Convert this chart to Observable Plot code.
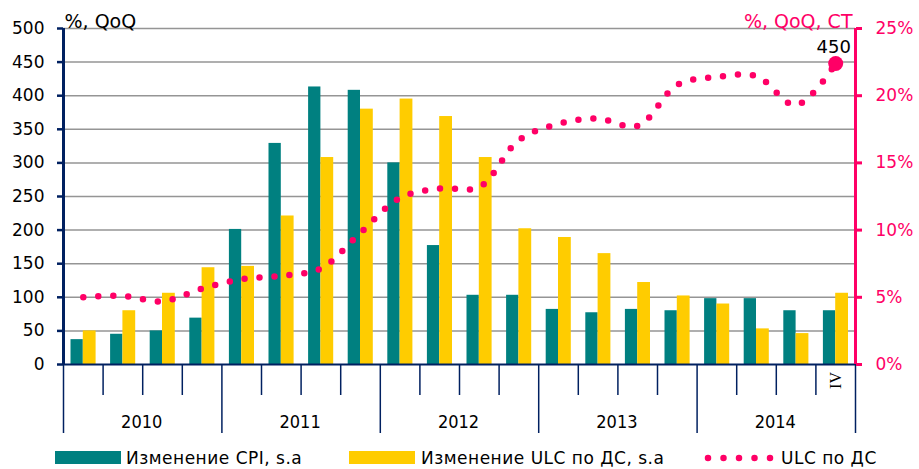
<!DOCTYPE html>
<html>
<head>
<meta charset="utf-8">
<script src="https://cdn.jsdelivr.net/npm/d3@7"></script>
<script src="https://cdn.jsdelivr.net/npm/@observablehq/plot@0.6"></script>
<style>
  body { margin: 0; background: #fff; }
  #chart svg { display: block; }
  #legend { position: relative; width: 919px; height: 29px; font-family: 'DejaVu Sans', sans-serif; font-size: 17px; letter-spacing: 0.5px; color: #000; }
  #legend .sw { position: absolute; }
  #legend .lb { position: absolute; top: 4px; line-height: 28px; white-space: nowrap; }
</style>
</head>
<body>
<div id="chart"></div>
<div id="legend"></div>
<script>
// ---- data ----
const years = ["2010", "2011", "2012", "2013", "2014"];
const quarters = ["I", "II", "III", "IV"];
const lastQuarterLabel = "IV";
const cpiChange = [37, 45, 50, 69, 201, 329, 413, 408, 300, 177, 103, 103, 82, 77, 82, 80, 98, 98, 80, 80];
const ulcChange = [50, 80, 106, 144, 146, 221, 308, 380, 395, 369, 308, 202, 189, 165, 122, 102, 90, 53, 46, 106];
const ulcPct = [5.0, 5.1, 4.7, 5.65, 6.35, 6.6, 7.15, 9.8, 12.4, 13.1, 13.2, 16.7, 17.9, 18.3, 17.75, 20.8, 21.4, 21.45, 19.3, 22.4];
const endLabel = "450";
const leftTicks = [0, 50, 100, 150, 200, 250, 300, 350, 400, 450, 500];
const rightTicks = [0, 5, 10, 15, 20, 25];
const leftTitle = "%, QoQ";
const rightTitle = "%, QoQ, CT";
const legendLabels = ["Изменение CPI, s.a", "Изменение ULC по ДС, s.a", "ULC по ДС"];

const TEAL = "#008080", YELLOW = "#FFCC00", PINK = "#FF0066", NAVY = "#002060";
const K = 500 / 25; // right axis (%) mapped onto left axis units

const rows = cpiChange.map((c, i) => ({
  i, label: years[Math.floor(i / 4)] + " " + quarters[i % 4],
  cpi: c, ulc: ulcChange[i], pct: ulcPct[i]
}));
const nQ = rows.length;
const qTicks = d3.range(1, nQ).filter(i => i % 4 !== 0);
const yTicks = d3.range(0, nQ + 1, 4);

const chart = Plot.plot({
  width: 919,
  height: 440,
  marginTop: 28,
  marginBottom: 76,
  marginLeft: 63,
  marginRight: 64,
  x: { domain: [0, nQ], axis: null },
  y: { domain: [0, 500], axis: null },
  style: { fontFamily: "'DejaVu Sans', sans-serif", fontSize: "17px", background: "#fff", color: "#000" },
  marks: [
    Plot.ruleY(leftTicks.filter(d => d > 0), { stroke: "#959595", strokeWidth: 1.5 }),
    Plot.rectY(rows, { x1: "i", x2: d => d.i + 1, y: "cpi", fill: TEAL, insetLeft: 7.5, insetRight: 19.8 }),
    Plot.rectY(rows, { x1: "i", x2: d => d.i + 1, y: "ulc", fill: YELLOW, insetLeft: 19.8, insetRight: 7 }),
    // bottom axis
    Plot.ruleY([0], { stroke: NAVY, strokeWidth: 2 }),
    Plot.ruleX(qTicks, { y1: 0, y2: 0, insetBottom: -31, stroke: NAVY, strokeWidth: 1.5 }),
    Plot.ruleX(yTicks, { y1: 0, y2: 0, insetBottom: -69, stroke: NAVY, strokeWidth: 1.5 }),
    Plot.text(years, { x: (d, k) => k * 4 + 2, y: 0, dy: 58, dx: -1, fontFamily: "'DejaVu Sans Condensed', 'DejaVu Sans'", fontSize: 18, fill: "#000" }),
    Plot.text([lastQuarterLabel], { x: nQ - 0.5, y: 0, dy: 16, rotate: -90, fontFamily: "'Liberation Serif', serif", fontSize: 16, fill: "#000" }),
    // left axis
    Plot.axisY({ anchor: "left", ticks: leftTicks, tickSize: 6, tickPadding: 13, stroke: NAVY, strokeWidth: 2.5, fill: "#000", label: null, fontSize: 17 }),
    Plot.ruleX([0], { stroke: NAVY, strokeWidth: 3 }),
    // right axis
    Plot.axisY({ anchor: "right", ticks: rightTicks.map(d => d * K), tickFormat: d => (d / K) + "%", tickSize: 6, tickPadding: 14, stroke: PINK, strokeWidth: 3, fill: PINK, label: null, fontSize: 17 }),
    Plot.ruleX([nQ], { stroke: PINK, strokeWidth: 3 }),
    // line
    Plot.line(rows, { x: d => d.i + 0.5, y: d => d.pct * K, stroke: PINK, strokeWidth: 6.5, strokeDasharray: "0 15", strokeLinecap: "round", curve: "catmull-rom" }),
    Plot.dot(rows.slice(-1), { x: d => d.i + 0.5, y: d => d.pct * K, r: 7.5, fill: PINK }),
    Plot.text(rows.slice(-1), { x: d => d.i + 0.5, y: d => d.pct * K, text: () => endLabel, dy: -16, dx: -2, fontSize: 18, fill: "#000" }),
    // titles
    Plot.text([leftTitle], { frameAnchor: "top-left", textAnchor: "start", lineAnchor: "bottom", dx: 1, dy: -1, fontSize: 19, fill: "#000" }),
    Plot.text([rightTitle], { frameAnchor: "top-right", textAnchor: "end", lineAnchor: "bottom", dx: -3, dy: -1, fontSize: 19, fill: PINK })
  ]
});
document.getElementById("chart").appendChild(chart);

// legend
const lg = document.getElementById("legend");
const items = [
  { type: "rect", color: TEAL, sx: 55, tx: 126 },
  { type: "rect", color: YELLOW, sx: 349, tx: 421 },
  { type: "dots", color: PINK, sx: 703, tx: 781 }
];
items.forEach((it, k) => {
  let sw;
  if (it.type === "rect") {
    sw = document.createElement("div");
    sw.className = "sw";
    sw.style.cssText = `left:${it.sx}px;top:11px;width:66px;height:13px;background:${it.color}`;
  } else {
    sw = document.createElementNS("http://www.w3.org/2000/svg", "svg");
    sw.setAttribute("class", "sw");
    sw.setAttribute("width", 74);
    sw.setAttribute("height", 12);
    sw.style.cssText = `left:${it.sx}px;top:12px;position:absolute`;
    const ln = document.createElementNS("http://www.w3.org/2000/svg", "line");
    ln.setAttribute("x1", 5); ln.setAttribute("x2", 68);
    ln.setAttribute("y1", 6); ln.setAttribute("y2", 6);
    ln.setAttribute("stroke", it.color);
    ln.setAttribute("stroke-width", 6.5);
    ln.setAttribute("stroke-dasharray", "0 15.5");
    ln.setAttribute("stroke-linecap", "round");
    sw.appendChild(ln);
  }
  lg.appendChild(sw);
  const t = document.createElement("span");
  t.className = "lb";
  t.style.left = it.tx + "px";
  t.textContent = legendLabels[k];
  lg.appendChild(t);
});
</script>
</body>
</html>
